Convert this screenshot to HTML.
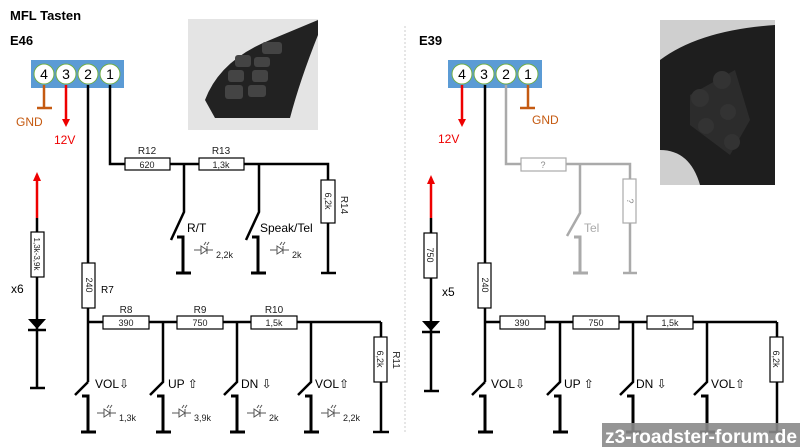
<!DOCTYPE html>
<html><head><meta charset="utf-8"><style>
html,body{margin:0;padding:0;background:#fff;}
svg{display:block;font-family:"Liberation Sans",sans-serif;}
</style></head><body>
<svg width="800" height="447" viewBox="0 0 800 447" xmlns="http://www.w3.org/2000/svg">
<defs>
<g id="led" stroke="#555" stroke-width="1" fill="none">
<line x1="0" y1="0" x2="7" y2="0"/><path d="M7,-4 L7,4 L13,0 Z" fill="#fff"/><line x1="13" y1="-4" x2="13" y2="4"/><line x1="13" y1="0" x2="19" y2="0"/>
<line x1="10" y1="-5" x2="12" y2="-8"/><line x1="13" y1="-5" x2="15" y2="-8"/>
</g>
<g id="gnd" stroke="#000" stroke-width="3" fill="none">
<polyline points="-6,0 0,0 0,36"/><line x1="-7" y1="36" x2="8" y2="36"/>
</g>
<g id="gndg" stroke="#aaa" stroke-width="3" fill="none">
<polyline points="-6,0 0,0 0,36"/><line x1="-7" y1="36" x2="8" y2="36"/>
</g>
</defs>
<rect width="800" height="447" fill="#fff"/>
<text x="10" y="20" font-size="13" font-weight="bold">MFL Tasten</text>
<text x="10" y="45" font-size="13" font-weight="bold">E46</text>
<text x="419" y="45" font-size="13" font-weight="bold">E39</text>
<line x1="405" y1="26" x2="405" y2="432" stroke="#ccc" stroke-width="1" stroke-dasharray="2,2"/>

<!-- photos -->
<rect x="188" y="19" width="130" height="111" fill="#e4e4e4"/>
<path d="M205,100 Q220,60 270,40 L318,20 L318,35 Q300,80 290,118 L215,118 Z" fill="#222"/>
<g fill="#444"><rect x="225" y="85" width="18" height="14" rx="3"/><rect x="228" y="70" width="16" height="12" rx="3"/><rect x="235" y="55" width="16" height="12" rx="3"/><rect x="248" y="85" width="18" height="12" rx="3"/><rect x="252" y="70" width="16" height="12" rx="3"/><rect x="254" y="57" width="16" height="10" rx="3"/><rect x="262" y="42" width="20" height="12" rx="3"/></g>
<rect x="660" y="20" width="115" height="165" fill="#cfcfcf"/>
<path d="M660,60 Q700,30 775,25 L775,185 L700,185 Q690,150 660,150 Z" fill="#1e1e1e"/>
<path d="M690,95 L735,70 L750,120 L730,155 L690,125 Z" fill="#2c2c2c"/>
<g fill="#333"><circle cx="700" cy="98" r="9"/><circle cx="722" cy="80" r="9"/><circle cx="728" cy="112" r="8"/><circle cx="706" cy="126" r="8"/><circle cx="732" cy="142" r="8"/></g>

<!-- E46 connector -->
<rect x="31" y="60" width="93" height="28" fill="#5b9bd5"/>
<g fill="#fff" stroke="#70ad47" stroke-width="1"><circle cx="44" cy="74" r="10"/><circle cx="66" cy="74" r="10"/><circle cx="88" cy="74" r="10"/><circle cx="110" cy="74" r="10"/></g>
<g font-size="14" text-anchor="middle"><text x="44" y="79">4</text><text x="66" y="79">3</text><text x="88" y="79">2</text><text x="110" y="79">1</text></g>
<g stroke="#c55a11" stroke-width="2.5"><line x1="44" y1="85" x2="44" y2="108"/><line x1="37" y1="108" x2="52" y2="108"/></g>
<text x="16" y="126" font-size="12" fill="#c55a11">GND</text>
<line x1="66" y1="85" x2="66" y2="120" stroke="#e00" stroke-width="2.5"/><path d="M62,119 L70,119 L66,127 Z" fill="#e00"/>
<text x="54" y="144" font-size="12" fill="#e00">12V</text>

<g stroke="#000" stroke-width="2.5" fill="none">
<line x1="88" y1="85" x2="88" y2="382"/>
<polyline points="110,85 110,164 328,164 328,180"/>
<line x1="328" y1="222" x2="328" y2="273"/><line x1="321" y1="273" x2="336" y2="273"/>
<polyline points="184,164 184,212 171,240"/>
<polyline points="259,164 259,212 246,240"/>
<line x1="88" y1="322" x2="381" y2="322"/><line x1="381" y1="322" x2="381" y2="432"/><line x1="373" y1="432" x2="389" y2="432"/>
<polyline points="88,382 75,395"/>
<polyline points="163,322 163,382 150,395"/>
<polyline points="237,322 237,382 224,395"/>
<polyline points="311,322 311,382 298,395"/>
<line x1="37" y1="218" x2="37" y2="388"/><line x1="30" y1="388" x2="45" y2="388"/>
</g>
<line x1="37" y1="218" x2="37" y2="180" stroke="#e00" stroke-width="2.5"/><path d="M33,181 L41,181 L37,172 Z" fill="#e00"/>
<path d="M28,319 L46,319 L37,329 Z" fill="#000"/><line x1="28" y1="330" x2="46" y2="330" stroke="#000" stroke-width="2.5"/>
<use href="#gnd" x="183" y="237"/><use href="#gnd" x="258" y="237"/>
<use href="#gnd" x="88" y="396"/><use href="#gnd" x="163" y="396"/><use href="#gnd" x="237" y="396"/><use href="#gnd" x="311" y="396"/>

<g fill="#fff" stroke="#000" stroke-width="1.2">
<rect x="125" y="158" width="45" height="12"/><rect x="199" y="158" width="45" height="12"/><rect x="321" y="180" width="14" height="43"/>
<rect x="31" y="232" width="13" height="45"/><rect x="82" y="263" width="13" height="45"/>
<rect x="103" y="316" width="46" height="13"/><rect x="177" y="316" width="46" height="13"/><rect x="251" y="316" width="46" height="13"/>
<rect x="374" y="337" width="13" height="45"/>
</g>
<g font-size="9" text-anchor="middle" fill="#222">
<text x="147" y="168">620</text><text x="221" y="168">1,3k</text>
<text x="147" y="154" font-size="10">R12</text><text x="221" y="154" font-size="10">R13</text>
<text x="126" y="326">390</text><text x="200" y="326">750</text><text x="274" y="326">1,5k</text>
<text x="126" y="313" font-size="10">R8</text><text x="200" y="313" font-size="10">R9</text><text x="274" y="313" font-size="10">R10</text>
<text transform="translate(325,201) rotate(90)">6,2k</text>
<text transform="translate(341,205) rotate(90)" font-size="10">R14</text>
<text transform="translate(34,254) rotate(90)" font-size="8">1,3k-3,9k</text>
<text transform="translate(86,285) rotate(90)">240</text>
<text transform="translate(377,359) rotate(90)">6,2k</text>
<text transform="translate(393,360) rotate(90)" font-size="10">R11</text>
</g>
<text x="101" y="293" font-size="10">R7</text>
<text x="11" y="293" font-size="12">x6</text>
<g font-size="12">
<text x="187" y="232">R/T</text><text x="260" y="232">Speak/Tel</text>
<text x="95" y="388">VOL⇩</text><text x="168" y="388">UP ⇧</text><text x="241" y="388">DN ⇩</text><text x="315" y="388">VOL⇧</text>
</g>
<use href="#led" x="194" y="250"/><use href="#led" x="270" y="250"/>
<use href="#led" x="97" y="413"/><use href="#led" x="172" y="413"/><use href="#led" x="247" y="413"/><use href="#led" x="321" y="413"/>
<g font-size="9" fill="#222">
<text x="216" y="258">2,2k</text><text x="292" y="258">2k</text>
<text x="119" y="421">1,3k</text><text x="194" y="421">3,9k</text><text x="269" y="421">2k</text><text x="343" y="421">2,2k</text>
</g>

<!-- E39 connector -->
<rect x="448" y="60" width="94" height="28" fill="#5b9bd5"/>
<g fill="#fff" stroke="#70ad47" stroke-width="1"><circle cx="462" cy="74" r="10"/><circle cx="484" cy="74" r="10"/><circle cx="506" cy="74" r="10"/><circle cx="528" cy="74" r="10"/></g>
<g font-size="14" text-anchor="middle"><text x="462" y="79">4</text><text x="484" y="79">3</text><text x="506" y="79">2</text><text x="528" y="79">1</text></g>
<g stroke="#c55a11" stroke-width="2.5"><line x1="528" y1="85" x2="528" y2="108"/><line x1="520" y1="108" x2="535" y2="108"/></g>
<text x="532" y="124" font-size="12" fill="#c55a11">GND</text>
<line x1="462" y1="85" x2="462" y2="120" stroke="#e00" stroke-width="2.5"/><path d="M458,119 L466,119 L462,127 Z" fill="#e00"/>
<text x="438" y="143" font-size="12" fill="#e00">12V</text>
<g stroke="#aaa" stroke-width="2.5" fill="none">
<polyline points="506,85 506,164 630,164 630,180"/>
<line x1="630" y1="222" x2="630" y2="273"/><line x1="623" y1="273" x2="637" y2="273"/>
<polyline points="580,164 580,213 567,236"/>
</g>
<use href="#gndg" x="580" y="237"/>
<text x="584" y="232" font-size="12" fill="#aaa">Tel</text>
<g stroke="#000" stroke-width="2.5" fill="none">
<line x1="485" y1="85" x2="485" y2="382"/>
<line x1="485" y1="322" x2="777" y2="322"/><line x1="777" y1="322" x2="777" y2="432"/><line x1="769" y1="432" x2="785" y2="432"/>
<polyline points="485,382 472,395"/>
<polyline points="560,322 560,382 547,395"/>
<polyline points="633,322 633,382 620,395"/>
<polyline points="707,322 707,382 694,395"/>
<line x1="431" y1="218" x2="431" y2="391"/><line x1="424" y1="391" x2="439" y2="391"/>
</g>
<line x1="431" y1="218" x2="431" y2="183" stroke="#e00" stroke-width="2.5"/><path d="M427,184 L435,184 L431,175 Z" fill="#e00"/>
<path d="M422,321 L440,321 L431,331 Z" fill="#000"/><line x1="422" y1="332" x2="440" y2="332" stroke="#000" stroke-width="2.5"/>
<use href="#gnd" x="485" y="396"/><use href="#gnd" x="560" y="396"/><use href="#gnd" x="633" y="396"/><use href="#gnd" x="707" y="396"/>
<g fill="#fff" stroke="#aaa" stroke-width="1.2">
<rect x="521" y="158" width="45" height="13"/><rect x="623" y="179" width="13" height="44"/>
</g>
<g fill="#fff" stroke="#000" stroke-width="1.2">
<rect x="424" y="233" width="13" height="45"/><rect x="478" y="263" width="13" height="45"/>
<rect x="500" y="316" width="45" height="13"/><rect x="573" y="316" width="46" height="13"/><rect x="647" y="316" width="46" height="13"/>
<rect x="770" y="337" width="13" height="45"/>
</g>
<g font-size="9" text-anchor="middle" fill="#222">
<text x="543" y="168" fill="#888">?</text><text transform="translate(627,201) rotate(90)" fill="#888">?</text>
<text transform="translate(427,255) rotate(90)">750</text>
<text transform="translate(482,285) rotate(90)">240</text>
<text x="522" y="326">390</text><text x="596" y="326">750</text><text x="670" y="326">1,5k</text>
<text transform="translate(773,359) rotate(90)">6,2k</text>
</g>
<text x="442" y="296" font-size="12">x5</text>
<g font-size="12">
<text x="491" y="388">VOL⇩</text><text x="564" y="388">UP ⇧</text><text x="636" y="388">DN ⇩</text><text x="711" y="388">VOL⇧</text>
</g>

<!-- watermark -->
<rect x="602" y="423" width="198" height="24" fill="#8a8a8a" opacity="0.9"/>
<text x="605" y="443" font-size="19" font-weight="bold" fill="#fff" textLength="192" lengthAdjust="spacingAndGlyphs">z3-roadster-forum.de</text>
</svg>
</body></html>
